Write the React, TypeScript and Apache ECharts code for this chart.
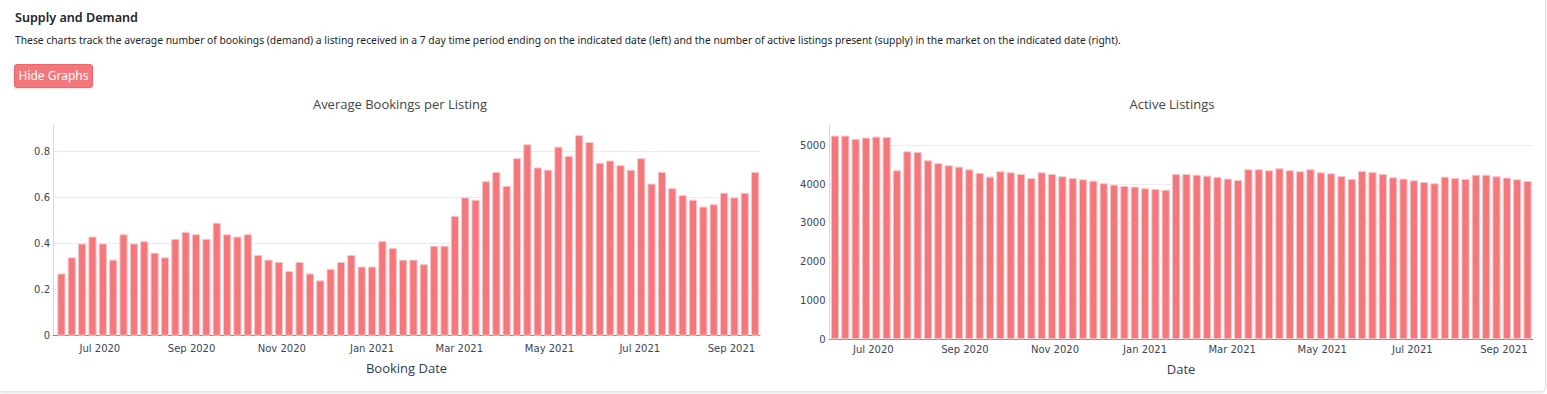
import React, { useEffect, useRef } from "react";
import * as echarts from "echarts";

const dates = [
  "2020-06-05", "2020-06-12", "2020-06-19", "2020-06-26", "2020-07-03", "2020-07-10", "2020-07-17", "2020-07-24",
  "2020-07-31", "2020-08-07", "2020-08-14", "2020-08-21", "2020-08-28", "2020-09-04", "2020-09-11", "2020-09-18",
  "2020-09-25", "2020-10-02", "2020-10-09", "2020-10-16", "2020-10-23", "2020-10-30", "2020-11-06", "2020-11-13",
  "2020-11-20", "2020-11-27", "2020-12-04", "2020-12-11", "2020-12-18", "2020-12-25", "2021-01-01", "2021-01-08",
  "2021-01-15", "2021-01-22", "2021-01-29", "2021-02-05", "2021-02-12", "2021-02-19", "2021-02-26", "2021-03-05",
  "2021-03-12", "2021-03-19", "2021-03-26", "2021-04-02", "2021-04-09", "2021-04-16", "2021-04-23", "2021-04-30",
  "2021-05-07", "2021-05-14", "2021-05-21", "2021-05-28", "2021-06-04", "2021-06-11", "2021-06-18", "2021-06-25",
  "2021-07-02", "2021-07-09", "2021-07-16", "2021-07-23", "2021-07-30", "2021-08-06", "2021-08-13", "2021-08-20",
  "2021-08-27", "2021-09-03", "2021-09-10", "2021-09-17",
];

const avgBookings = [
  0.27, 0.34, 0.40, 0.43, 0.40, 0.33, 0.44, 0.40, 0.41, 0.36, 0.34, 0.42, 0.45, 0.44, 0.42, 0.49,
  0.44, 0.43, 0.44, 0.35, 0.33, 0.32, 0.28, 0.32, 0.27, 0.24, 0.29, 0.32, 0.35, 0.30, 0.30, 0.41,
  0.38, 0.33, 0.33, 0.31, 0.39, 0.39, 0.52, 0.60, 0.59, 0.67, 0.71, 0.65, 0.77, 0.83, 0.73, 0.72,
  0.82, 0.78, 0.87, 0.84, 0.75, 0.76, 0.74, 0.72, 0.77, 0.66, 0.71, 0.64, 0.61, 0.59, 0.56, 0.57,
  0.62, 0.60, 0.62, 0.71,
];

const activeListings = [
  5250, 5250, 5163, 5198, 5223, 5215, 4356, 4845, 4828, 4613, 4545, 4485, 4450, 4381, 4287, 4192,
  4330, 4304, 4261, 4158, 4304, 4261, 4201, 4158, 4124, 4089, 4021, 3986, 3952, 3935, 3892, 3875,
  3857, 4261, 4261, 4244, 4218, 4184, 4141, 4107, 4381, 4381, 4356, 4407, 4356, 4330, 4381, 4304,
  4278, 4210, 4132, 4339, 4313, 4261, 4175, 4141, 4098, 4055, 4021, 4192, 4158, 4132, 4244, 4244,
  4201, 4167, 4124, 4081,
];

const tickDates = [
  "2020-07-01", "2020-09-01", "2020-11-01", "2021-01-01",
  "2021-03-01", "2021-05-01", "2021-07-01", "2021-09-01",
];
const tickLabels = [
  "Jul 2020", "Sep 2020", "Nov 2020", "Jan 2021",
  "Mar 2021", "May 2021", "Jul 2021", "Sep 2021",
];

const DAY = 86400000;
const ts = (s: string) => Date.parse(s + "T00:00:00Z");

const BAR = "#f4777c";
const BAR_EDGE = "#f8c6c9";
const TICK_COLOR = "#3a4558";

export default function App() {
  const ref = useRef<HTMLDivElement>(null);

  useEffect(() => {
    if (!ref.current) return;
    const chart = echarts.init(ref.current, null, { renderer: "svg" });
    const tickValues = tickDates.map(ts);
    const first = ts(dates[0]);
    const last = ts(dates[dates.length - 1]);

    const xAxisBase = (gridIndex: number, name: string, min: number, max: number, offset: number) => ({
      type: "value" as const,
      gridIndex,
      min,
      max,
      offset,
      axisLine: { show: true, lineStyle: { color: "#8a8a8a", width: 1 } },
      axisTick: { show: false },
      splitLine: { show: false },
      axisLabel: {
        customValues: tickValues,
        formatter: (v: number) => {
          const i = tickValues.indexOf(v);
          return i >= 0 ? tickLabels[i] : "";
        },
        color: TICK_COLOR,
        fontFamily: "DejaVu Sans",
        fontSize: 10,
        margin: 5,
        hideOverlap: false,
      },
      name,
      nameLocation: "middle" as const,
      nameGap: 23,
      nameTextStyle: { color: "#2f3d52", fontFamily: "Open Sans", fontSize: 13 },
    });

    const yAxisBase = (gridIndex: number, max: number, interval: number, margin: number) => ({
      type: "value" as const,
      gridIndex,
      min: 0,
      max,
      interval,
      axisLine: { show: true, lineStyle: { color: "#d9d9d9", width: 1 } },
      axisTick: { show: false },
      splitLine: { show: true, showMaxLine: false, lineStyle: { color: "#ececec", width: 1 } },
      axisLabel: {
        showMaxLabel: false,
        formatter: (v: number) => String(Math.round(v * 1000) / 1000),
        color: TICK_COLOR,
        fontFamily: "DejaVu Sans",
        fontSize: 10,
        margin,
      },
    });

    const barSeries = (idx: number, values: number[]) => ({
      type: "bar" as const,
      xAxisIndex: idx,
      yAxisIndex: idx,
      data: dates.map((d, i) => [ts(d), values[i]]),
      barWidth: 8.2,
      itemStyle: { color: BAR, borderColor: BAR_EDGE, borderWidth: 1 },
    });

    chart.setOption({
      animation: false,
      graphic: [
        {
          type: "text",
          x: 400,
          y: 104,
          style: {
            text: "Average Bookings per Listing",
            align: "center",
            verticalAlign: "middle",
            fontFamily: "Open Sans",
            fontSize: 13,
            fill: "#444",
          },
        },
        {
          type: "text",
          x: 1172,
          y: 104,
          style: {
            text: "Active Listings",
            align: "center",
            verticalAlign: "middle",
            fontFamily: "Open Sans",
            fontSize: 13,
            fill: "#444",
          },
        },
      ],
      grid: [
        { left: 53, top: 125, width: 707, height: 210.7 },
        { left: 829.5, top: 125, width: 703.2, height: 214.3 },
      ],
      xAxis: [
        xAxisBase(0, "Booking Date", first - 5.7 * DAY, last + 3.3 * DAY, 3),
        xAxisBase(1, "Date", first - 3.7 * DAY, last + 3.5 * DAY, 0),
      ],
      yAxis: [yAxisBase(0, 0.914, 0.2, 3), yAxisBase(1, 5523, 1000, 4)],
      series: [barSeries(0, avgBookings), barSeries(1, activeListings)],
    });

    return () => chart.dispose();
  }, []);

  return (
    <div
      style={{
        position: "fixed",
        left: 0,
        top: 0,
        width: 1547,
        height: 394,
        background: "#fff",
        overflow: "hidden",
        fontFamily: "'Noto Sans', sans-serif",
        color: "#212529",
      }}
    >
      <div
        style={{
          position: "absolute",
          left: -3,
          top: -20,
          width: 1549,
          height: 412,
          border: "1px solid #e2e2e2",
          borderRadius: 5,
          boxShadow: "0 1px 3px rgba(0,0,0,0.10)",
          boxSizing: "border-box",
        }}
      />
      <div
        style={{
          position: "absolute",
          left: 15,
          top: 9,
          fontSize: 12.6,
          fontWeight: 600,
          lineHeight: "18px",
          whiteSpace: "nowrap",
        }}
      >
        Supply and Demand
      </div>
      <div
        style={{
          position: "absolute",
          left: 15,
          top: 32,
          fontSize: 10.3,
          lineHeight: "16px",
          whiteSpace: "nowrap",
        }}
      >
        These charts track the average number of bookings (demand) a listing received in a 7 day time period ending on
        the indicated date (left) and the number of active listings present (supply) in the market on the indicated date
        (right).
      </div>
      <div
        ref={ref}
        style={{ position: "absolute", left: 0, top: 0, width: 1547, height: 394 }}
      />
      <div
        style={{
          position: "absolute",
          left: 14,
          top: 64,
          width: 79,
          height: 24,
          boxSizing: "border-box",
          background: BAR,
          border: "1px solid #e9666c",
          borderRadius: 3,
          boxShadow: "0 1px 2px rgba(0,0,0,0.12)",
          color: "#fff",
          fontSize: 12,
          lineHeight: "22px",
          textAlign: "center",
          whiteSpace: "nowrap",
        }}
      >
        Hide Graphs
      </div>
    </div>
  );
}
